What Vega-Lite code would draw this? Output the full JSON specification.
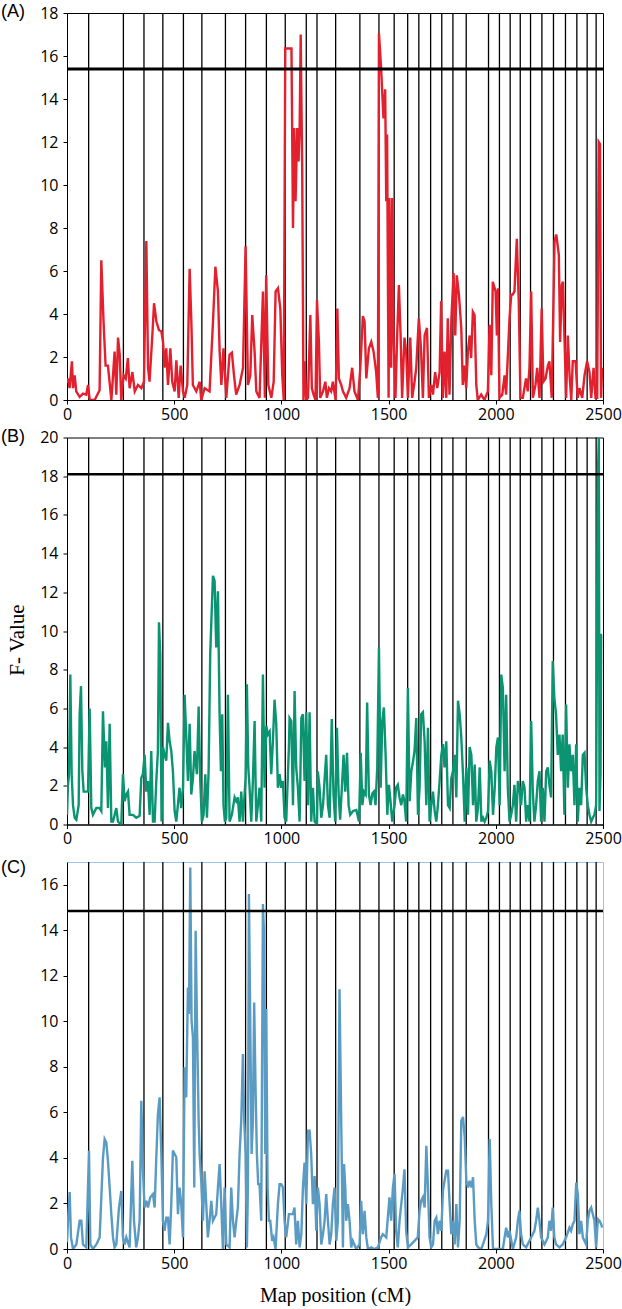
{
  "$schema": "https://vega.github.io/schema/vega-lite/v6.json",
  "background": "white",
  "padding": {"left": 0, "top": 2, "right": 2, "bottom": 0},
  "autosize": {"type": "pad"},
  "bounds": "flush",
  "spacing": 37.5,
  "datasets": {
    "chrom": [{"p":101},{"p":263},{"p":359},{"p":447},{"p":543},{"p":629},{"p":739},{"p":833},{"p":930},{"p":1018},{"p":1116},{"p":1166},{"p":1253},{"p":1366},{"p":1455},{"p":1526},{"p":1589},{"p":1641},{"p":1696},{"p":1748},{"p":1800},{"p":1862},{"p":1966},{"p":2017},{"p":2067},{"p":2114},{"p":2162},{"p":2215},{"p":2269},{"p":2325},{"p":2378},{"p":2426},{"p":2468}],
    "a": [{"p":0,"f":0.8},{"p":4.7,"f":1.0},{"p":12,"f":0.55},{"p":23,"f":1.8},{"p":28,"f":0.55},{"p":36,"f":1.15},{"p":43,"f":0.4},{"p":59,"f":0.15},{"p":75,"f":0.3},{"p":90,"f":0.25},{"p":98,"f":0.7},{"p":106,"f":0},{"p":129,"f":0},{"p":152,"f":0.45},{"p":160,"f":6.5},{"p":171,"f":3.5},{"p":180,"f":1.6},{"p":191,"f":1.6},{"p":207,"f":0},{"p":222,"f":2.25},{"p":230,"f":0.25},{"p":238,"f":2.9},{"p":246,"f":2.1},{"p":253,"f":0},{"p":264,"f":1.15},{"p":274,"f":1.0},{"p":284,"f":1.95},{"p":292,"f":0.55},{"p":305,"f":1.3},{"p":316,"f":0.4},{"p":331,"f":0.7},{"p":347,"f":0.55},{"p":359,"f":0.85},{"p":370,"f":7.4},{"p":378,"f":1.5},{"p":385,"f":0.85},{"p":398,"f":3.0},{"p":406,"f":4.5},{"p":417,"f":3.65},{"p":429,"f":3.25},{"p":440,"f":3.2},{"p":448,"f":2.7},{"p":455,"f":1.5},{"p":463,"f":2.4},{"p":471,"f":0.7},{"p":482,"f":2.4},{"p":491,"f":0.85},{"p":502,"f":0.4},{"p":510,"f":1.85},{"p":521,"f":0.1},{"p":530,"f":1.6},{"p":541,"f":0.4},{"p":549,"f":0.1},{"p":561,"f":0.7},{"p":572,"f":6.1},{"p":580,"f":3.65},{"p":587,"f":0.7},{"p":603,"f":0.4},{"p":619,"f":0.85},{"p":626,"f":0},{"p":642,"f":0.55},{"p":665,"f":0.4},{"p":681,"f":3.65},{"p":692,"f":6.2},{"p":704,"f":5.05},{"p":712,"f":2.25},{"p":720,"f":0.7},{"p":730,"f":2.4},{"p":743,"f":0.1},{"p":758,"f":2.1},{"p":769,"f":2.2},{"p":779,"f":1.15},{"p":789,"f":0.25},{"p":805,"f":0.7},{"p":821,"f":1.5},{"p":833,"f":7.15},{"p":844,"f":0.7},{"p":855,"f":1.15},{"p":864,"f":3.95},{"p":875,"f":2.25},{"p":883,"f":0.4},{"p":898,"f":0.1},{"p":914,"f":5.05},{"p":923,"f":0.1},{"p":929,"f":5.8},{"p":939,"f":0.7},{"p":953,"f":0.1},{"p":964,"f":0.85},{"p":973,"f":5.05},{"p":984,"f":5.2},{"p":995,"f":4.25},{"p":1004,"f":1.15},{"p":1011,"f":0},{"p":1018,"f":16.35},{"p":1047,"f":16.35},{"p":1054,"f":8.0},{"p":1060,"f":12.65},{"p":1066,"f":9.25},{"p":1074,"f":12.65},{"p":1080,"f":11.1},{"p":1085,"f":12.6},{"p":1090,"f":17.0},{"p":1097,"f":10.8},{"p":1103,"f":0},{"p":1108,"f":1.8},{"p":1116,"f":0},{"p":1124,"f":0.1},{"p":1135,"f":3.95},{"p":1142,"f":0.55},{"p":1150,"f":0.25},{"p":1159,"f":0},{"p":1166,"f":4.65},{"p":1175,"f":2.7},{"p":1181,"f":0.1},{"p":1194,"f":0.4},{"p":1205,"f":0.85},{"p":1212,"f":0.1},{"p":1222,"f":0.55},{"p":1232,"f":0.4},{"p":1240,"f":0.85},{"p":1253,"f":0},{"p":1261,"f":4.25},{"p":1268,"f":1.0},{"p":1279,"f":0.7},{"p":1287,"f":0.4},{"p":1302,"f":0.1},{"p":1318,"f":0.55},{"p":1330,"f":1.5},{"p":1341,"f":0.4},{"p":1357,"f":0},{"p":1368,"f":1.5},{"p":1380,"f":3.9},{"p":1388,"f":3.65},{"p":1396,"f":1.0},{"p":1408,"f":2.4},{"p":1419,"f":2.7},{"p":1430,"f":2.25},{"p":1442,"f":1.3},{"p":1450,"f":0.1},{"p":1455,"f":17.05},{"p":1465,"f":15.45},{"p":1476,"f":13.1},{"p":1484,"f":14.45},{"p":1489,"f":9.25},{"p":1493,"f":12.35},{"p":1500,"f":0.1},{"p":1504,"f":9.4},{"p":1512,"f":1.5},{"p":1517,"f":9.4},{"p":1523,"f":3.0},{"p":1532,"f":0.1},{"p":1540,"f":3.0},{"p":1548,"f":5.35},{"p":1556,"f":3.0},{"p":1563,"f":0.1},{"p":1574,"f":2.9},{"p":1582,"f":2.25},{"p":1590,"f":0.1},{"p":1601,"f":2.9},{"p":1610,"f":0.1},{"p":1621,"f":0.85},{"p":1629,"f":1.5},{"p":1641,"f":3.8},{"p":1651,"f":2.4},{"p":1660,"f":0.1},{"p":1668,"f":3.0},{"p":1679,"f":3.35},{"p":1688,"f":0.1},{"p":1699,"f":0.7},{"p":1707,"f":0.25},{"p":1717,"f":1.3},{"p":1727,"f":0.55},{"p":1738,"f":1.3},{"p":1745,"f":4.6},{"p":1753,"f":0.1},{"p":1761,"f":2.25},{"p":1769,"f":0.1},{"p":1776,"f":3.8},{"p":1784,"f":0.25},{"p":1793,"f":3.8},{"p":1803,"f":5.9},{"p":1811,"f":3.0},{"p":1818,"f":5.8},{"p":1828,"f":4.9},{"p":1839,"f":3.35},{"p":1846,"f":0.7},{"p":1854,"f":1.6},{"p":1862,"f":0.55},{"p":1870,"f":2.25},{"p":1878,"f":3.0},{"p":1885,"f":1.95},{"p":1893,"f":4.1},{"p":1901,"f":3.95},{"p":1909,"f":0.7},{"p":1916,"f":0},{"p":1932,"f":0.25},{"p":1947,"f":0},{"p":1963,"f":0.4},{"p":1971,"f":3.5},{"p":1979,"f":1.15},{"p":1986,"f":5.5},{"p":1999,"f":5.05},{"p":2005,"f":3.0},{"p":2010,"f":5.2},{"p":2017,"f":0.1},{"p":2030,"f":0.25},{"p":2041,"f":1.15},{"p":2048,"f":0.25},{"p":2064,"f":3.8},{"p":2072,"f":4.9},{"p":2079,"f":4.9},{"p":2087,"f":5.05},{"p":2098,"f":7.5},{"p":2107,"f":4.6},{"p":2115,"f":0.1},{"p":2126,"f":0.1},{"p":2141,"f":1.0},{"p":2149,"f":0.4},{"p":2157,"f":1.5},{"p":2165,"f":5.05},{"p":2173,"f":0.1},{"p":2185,"f":0.7},{"p":2193,"f":1.5},{"p":2204,"f":0.1},{"p":2214,"f":4.25},{"p":2222,"f":0.85},{"p":2232,"f":1.0},{"p":2243,"f":1.6},{"p":2250,"f":1.8},{"p":2261,"f":0.1},{"p":2274,"f":7.4},{"p":2282,"f":7.7},{"p":2294,"f":6.75},{"p":2300,"f":2.7},{"p":2308,"f":5.35},{"p":2313,"f":5.5},{"p":2320,"f":3.0},{"p":2328,"f":0.1},{"p":2336,"f":3.0},{"p":2344,"f":1.15},{"p":2352,"f":0},{"p":2359,"f":1.8},{"p":2372,"f":1.8},{"p":2382,"f":0.1},{"p":2390,"f":0.55},{"p":2403,"f":0.1},{"p":2414,"f":1.15},{"p":2426,"f":1.8},{"p":2437,"f":1.3},{"p":2445,"f":0.1},{"p":2456,"f":1.5},{"p":2465,"f":0.1},{"p":2473,"f":0.1},{"p":2480,"f":12.0},{"p":2486,"f":11.9},{"p":2491,"f":0.1},{"p":2496,"f":1.5}],
    "b": [{"p":0,"f":0.5},{"p":4.7,"f":2.05},{"p":9.3,"f":2.6},{"p":15.5,"f":7.75},{"p":21.8,"f":2.6},{"p":28,"f":1.0},{"p":35.7,"f":0.35},{"p":43.5,"f":0.25},{"p":54.4,"f":1.0},{"p":59,"f":5.7},{"p":65.3,"f":7.15},{"p":71.5,"f":2.75},{"p":77.7,"f":1.7},{"p":87,"f":1.7},{"p":98,"f":1.7},{"p":105.7,"f":6.0},{"p":113.4,"f":0.85},{"p":121,"f":0.5},{"p":136.8,"f":0.85},{"p":152.3,"f":0.85},{"p":160,"f":0.7},{"p":167.8,"f":5.85},{"p":177,"f":2.95},{"p":183.4,"f":4.3},{"p":191,"f":0.85},{"p":199,"f":5.2},{"p":206.7,"f":0.15},{"p":214.5,"f":0.15},{"p":230,"f":0.85},{"p":237.8,"f":0.15},{"p":253.3,"f":0},{"p":261,"f":2.6},{"p":269,"f":1.2},{"p":276.6,"f":1.55},{"p":284.4,"f":1.7},{"p":292,"f":0.5},{"p":307.7,"f":0.5},{"p":323,"f":0.35},{"p":338.8,"f":0.45},{"p":346.5,"f":2.4},{"p":354,"f":2.6},{"p":362,"f":3.6},{"p":370,"f":1.7},{"p":377.6,"f":2.25},{"p":385.4,"f":0.5},{"p":393,"f":3.8},{"p":401,"f":0.15},{"p":408.7,"f":0.15},{"p":416.5,"f":2.25},{"p":424,"f":3.8},{"p":429,"f":10.45},{"p":435,"f":8.8},{"p":441,"f":0.15},{"p":447.5,"f":4.0},{"p":455,"f":3.6},{"p":463,"f":3.3},{"p":471,"f":5.25},{"p":478.6,"f":4.3},{"p":486.4,"f":3.8},{"p":494,"f":2.75},{"p":502,"f":0.7},{"p":509.7,"f":0.15},{"p":525,"f":1.9},{"p":533,"f":0.85},{"p":541,"f":1.9},{"p":548.6,"f":6.7},{"p":556,"f":4.65},{"p":564,"f":2.25},{"p":572,"f":5.2},{"p":579.6,"f":1.55},{"p":587.4,"f":2.4},{"p":595,"f":3.8},{"p":606,"f":2.6},{"p":614,"f":6.1},{"p":621.6,"f":2.25},{"p":629,"f":0.15},{"p":637,"f":0.5},{"p":645,"f":2.6},{"p":652.7,"f":0.35},{"p":660.5,"f":2.75},{"p":668,"f":8.8},{"p":680.7,"f":12.85},{"p":688.4,"f":12.6},{"p":696,"f":9.15},{"p":704,"f":12.05},{"p":711.7,"f":5.7},{"p":718,"f":2.75},{"p":724,"f":5.7},{"p":730,"f":1.0},{"p":736.6,"f":0.15},{"p":742.8,"f":0.35},{"p":750.6,"f":6.7},{"p":758.3,"f":0.15},{"p":769,"f":0.5},{"p":781.7,"f":1.4},{"p":789.4,"f":1.2},{"p":797,"f":1.4},{"p":805,"f":0.15},{"p":812.7,"f":1.7},{"p":820.5,"f":0.15},{"p":833,"f":2.4},{"p":839,"f":7.25},{"p":845.4,"f":2.95},{"p":851.6,"f":1.9},{"p":859.4,"f":0.15},{"p":867,"f":2.25},{"p":875,"f":5.35},{"p":882.7,"f":0.15},{"p":890.4,"f":1.0},{"p":898,"f":1.9},{"p":906,"f":0.15},{"p":913.8,"f":7.75},{"p":921.5,"f":1.9},{"p":929.3,"f":5.1},{"p":937,"f":4.65},{"p":945,"f":4.8},{"p":952.6,"f":2.6},{"p":960.4,"f":4.3},{"p":968,"f":6.45},{"p":976,"f":5.2},{"p":983.7,"f":1.9},{"p":991.5,"f":2.6},{"p":999,"f":1.9},{"p":1007,"f":2.25},{"p":1014.8,"f":0.35},{"p":1022.5,"f":0.15},{"p":1035,"f":4.0},{"p":1038,"f":5.5},{"p":1046,"f":5.35},{"p":1054,"f":1.0},{"p":1061.5,"f":6.9},{"p":1069,"f":2.95},{"p":1077,"f":1.9},{"p":1085,"f":0.15},{"p":1093,"f":5.5},{"p":1100.4,"f":5.7},{"p":1108,"f":2.25},{"p":1116,"f":5.8},{"p":1124,"f":1.0},{"p":1131.5,"f":5.8},{"p":1139,"f":0.15},{"p":1147,"f":1.9},{"p":1155,"f":0.15},{"p":1166,"f":0},{"p":1170,"f":2.75},{"p":1178,"f":1.9},{"p":1186,"f":0.35},{"p":1194,"f":1.0},{"p":1201,"f":2.25},{"p":1209,"f":3.6},{"p":1217,"f":1.0},{"p":1225,"f":0.35},{"p":1235,"f":5.45},{"p":1243,"f":1.55},{"p":1251,"f":0.15},{"p":1259,"f":5.0},{"p":1267,"f":1.55},{"p":1274,"f":0.25},{"p":1282,"f":1.9},{"p":1290,"f":3.6},{"p":1298,"f":1.7},{"p":1306,"f":3.7},{"p":1313.5,"f":1.0},{"p":1321,"f":0.5},{"p":1334,"f":0.7},{"p":1349.5,"f":0.75},{"p":1362,"f":0.15},{"p":1370,"f":3.7},{"p":1377.6,"f":1.0},{"p":1385,"f":1.7},{"p":1393,"f":1.55},{"p":1400,"f":6.3},{"p":1408,"f":1.55},{"p":1416,"f":1.0},{"p":1424,"f":1.6},{"p":1431.5,"f":1.7},{"p":1439,"f":1.0},{"p":1447,"f":2.95},{"p":1455,"f":9.15},{"p":1463,"f":1.9},{"p":1470.5,"f":5.35},{"p":1478,"f":6.05},{"p":1486,"f":3.6},{"p":1494,"f":0.5},{"p":1501.5,"f":2.05},{"p":1509,"f":1.2},{"p":1517,"f":0.15},{"p":1528,"f":1.0},{"p":1535,"f":1.9},{"p":1543,"f":2.05},{"p":1551,"f":1.4},{"p":1559,"f":1.0},{"p":1567,"f":1.55},{"p":1574,"f":1.2},{"p":1582,"f":0.15},{"p":1590,"f":7.05},{"p":1598,"f":1.2},{"p":1606,"f":2.75},{"p":1613.2,"f":3.2},{"p":1621,"f":3.8},{"p":1629,"f":5.5},{"p":1637,"f":0.5},{"p":1644.5,"f":1.9},{"p":1652,"f":5.7},{"p":1660,"f":5.8},{"p":1668,"f":4.3},{"p":1676,"f":1.0},{"p":1683.5,"f":5.0},{"p":1691,"f":0.15},{"p":1699,"f":1.0},{"p":1707,"f":1.7},{"p":1714.8,"f":0.7},{"p":1722.5,"f":0.15},{"p":1730,"f":1.0},{"p":1738,"f":2.25},{"p":1746,"f":3.6},{"p":1753.5,"f":4.15},{"p":1761,"f":2.95},{"p":1769,"f":4.3},{"p":1777,"f":1.0},{"p":1784.8,"f":0.85},{"p":1792.5,"f":2.4},{"p":1800,"f":2.75},{"p":1808,"f":3.6},{"p":1816,"f":1.4},{"p":1823.6,"f":6.4},{"p":1831.5,"f":5.7},{"p":1839,"f":4.5},{"p":1847,"f":2.6},{"p":1855,"f":0.15},{"p":1862.7,"f":2.95},{"p":1870.4,"f":0.5},{"p":1878,"f":4.0},{"p":1886,"f":3.6},{"p":1893.8,"f":1.0},{"p":1901.6,"f":3.1},{"p":1909,"f":0.15},{"p":1917,"f":0.85},{"p":1925,"f":2.95},{"p":1932.8,"f":0.15},{"p":1940.5,"f":0.35},{"p":1948,"f":0.15},{"p":1956,"f":0.35},{"p":1963.8,"f":0.7},{"p":1971.5,"f":3.3},{"p":1979,"f":2.75},{"p":1987,"f":0.5},{"p":1995,"f":1.9},{"p":2002.6,"f":4.0},{"p":2010,"f":4.5},{"p":2018,"f":1.0},{"p":2025.5,"f":7.75},{"p":2033,"f":7.05},{"p":2041,"f":2.75},{"p":2048.4,"f":6.7},{"p":2056,"f":1.9},{"p":2064,"f":0.15},{"p":2071.7,"f":0.5},{"p":2079.5,"f":1.0},{"p":2087,"f":2.05},{"p":2095,"f":0.15},{"p":2103,"f":2.25},{"p":2110.5,"f":1.9},{"p":2118,"f":1.0},{"p":2126,"f":2.25},{"p":2134,"f":1.9},{"p":2141.6,"f":0.15},{"p":2149.4,"f":1.0},{"p":2157,"f":0.15},{"p":2165,"f":5.35},{"p":2172.6,"f":1.7},{"p":2180,"f":0.15},{"p":2188,"f":1.0},{"p":2196,"f":2.25},{"p":2203.6,"f":2.75},{"p":2211.3,"f":0.15},{"p":2219,"f":1.9},{"p":2227,"f":0.15},{"p":2235,"f":2.75},{"p":2242.6,"f":2.95},{"p":2250,"f":2.05},{"p":2258,"f":1.4},{"p":2265.5,"f":8.45},{"p":2273,"f":6.55},{"p":2281,"f":5.7},{"p":2289,"f":3.6},{"p":2297,"f":4.65},{"p":2304.6,"f":2.75},{"p":2312,"f":4.65},{"p":2320,"f":0.5},{"p":2328,"f":6.2},{"p":2336,"f":1.9},{"p":2343.6,"f":4.15},{"p":2351,"f":2.75},{"p":2359,"f":3.6},{"p":2367,"f":1.0},{"p":2374.8,"f":4.15},{"p":2382.5,"f":0.15},{"p":2390,"f":1.9},{"p":2398,"f":1.0},{"p":2406,"f":3.6},{"p":2413.7,"f":3.7},{"p":2421.4,"f":1.9},{"p":2429,"f":1.0},{"p":2437,"f":0.5},{"p":2445,"f":0.15},{"p":2452.6,"f":0.35},{"p":2460,"f":0.5},{"p":2468,"f":1.0},{"p":2476,"f":17.95},{"p":2480.5,"f":20},{"p":2483.7,"f":0.7},{"p":2488.4,"f":2.6},{"p":2491.5,"f":9.8},{"p":2496,"f":9.8}],
    "c": [{"p":0,"f":0.3},{"p":4.7,"f":1.24},{"p":12.4,"f":2.5},{"p":18.6,"f":0.51},{"p":28,"f":0},{"p":43.5,"f":0.2},{"p":59,"f":1.24},{"p":66.8,"f":1.24},{"p":74.6,"f":0.2},{"p":90,"f":0.07},{"p":102.6,"f":4.32},{"p":108.8,"f":0.2},{"p":121,"f":0},{"p":136.8,"f":0.2},{"p":152.3,"f":0.51},{"p":167.8,"f":4.0},{"p":175.6,"f":4.83},{"p":183.4,"f":4.68},{"p":191,"f":3.88},{"p":199,"f":2.7},{"p":206.7,"f":1.53},{"p":214.5,"f":0.51},{"p":222,"f":0.07},{"p":230,"f":0.2},{"p":242.4,"f":1.82},{"p":253.3,"f":2.55},{"p":261,"f":0.51},{"p":268.8,"f":0.2},{"p":276.6,"f":0.51},{"p":292,"f":0.07},{"p":304.6,"f":3.88},{"p":312.4,"f":1.24},{"p":323,"f":0.07},{"p":331,"f":0.51},{"p":338.8,"f":1.24},{"p":346.5,"f":6.51},{"p":354.3,"f":3.43},{"p":362,"f":1.82},{"p":370,"f":2.12},{"p":377.6,"f":1.82},{"p":388.5,"f":2.27},{"p":401,"f":2.41},{"p":408.7,"f":1.82},{"p":416.5,"f":4.03},{"p":424,"f":5.92},{"p":432,"f":6.66},{"p":440,"f":4.17},{"p":447.5,"f":1.24},{"p":455,"f":0.8},{"p":463,"f":1.38},{"p":471,"f":1.38},{"p":478.6,"f":0.2},{"p":486.4,"f":1.97},{"p":494,"f":4.32},{"p":502,"f":4.17},{"p":509.7,"f":4.03},{"p":517.5,"f":1.53},{"p":525,"f":2.7},{"p":533,"f":1.97},{"p":541,"f":0.51},{"p":548.6,"f":7.98},{"p":556,"f":6.66},{"p":564,"f":11.49},{"p":568.8,"f":10.32},{"p":575,"f":16.76},{"p":581,"f":10.03},{"p":587.4,"f":9.29},{"p":593.6,"f":2.7},{"p":600,"f":13.98},{"p":606,"f":10.03},{"p":614,"f":5.63},{"p":618.5,"f":4.17},{"p":626,"f":3.0},{"p":634,"f":1.24},{"p":642,"f":3.41},{"p":649.5,"f":1.97},{"p":657,"f":0.51},{"p":665,"f":1.24},{"p":673,"f":2.12},{"p":680.7,"f":1.24},{"p":696,"f":1.53},{"p":704,"f":2.7},{"p":711.7,"f":3.73},{"p":719.5,"f":1.97},{"p":727,"f":0},{"p":735,"f":2.7},{"p":743,"f":0.2},{"p":758.3,"f":0.07},{"p":766,"f":2.7},{"p":774,"f":1.24},{"p":781.7,"f":0.51},{"p":789.4,"f":1.24},{"p":797,"f":1.82},{"p":805,"f":4.17},{"p":812.7,"f":5.63},{"p":820.5,"f":8.56},{"p":826.7,"f":5.63},{"p":833,"f":4.17},{"p":839,"f":0.07},{"p":843.8,"f":2.7},{"p":848.5,"f":15.59},{"p":854.7,"f":10.03},{"p":861,"f":4.17},{"p":867,"f":5.63},{"p":873,"f":10.83},{"p":879.4,"f":7.1},{"p":885.6,"f":4.17},{"p":891.8,"f":2.85},{"p":898,"f":2.85},{"p":906,"f":1.24},{"p":913.8,"f":15.15},{"p":918.5,"f":13.98},{"p":924.7,"f":4.17},{"p":929.3,"f":10.54},{"p":935.6,"f":2.7},{"p":941.7,"f":1.24},{"p":948,"f":1.24},{"p":957,"f":0.36},{"p":963.5,"f":0.51},{"p":972.8,"f":0},{"p":983.7,"f":1.97},{"p":991.5,"f":2.85},{"p":999,"f":2.85},{"p":1007,"f":2.7},{"p":1014.8,"f":1.24},{"p":1022.5,"f":0.51},{"p":1035,"f":1.53},{"p":1053.6,"f":1.53},{"p":1061,"f":1.82},{"p":1069,"f":0.2},{"p":1077,"f":1.24},{"p":1085,"f":0.07},{"p":1093,"f":0.65},{"p":1100.4,"f":2.7},{"p":1108,"f":3.8},{"p":1116,"f":1.97},{"p":1124,"f":5.2},{"p":1131.5,"f":5.2},{"p":1139,"f":4.17},{"p":1147,"f":1.97},{"p":1155,"f":3.2},{"p":1162.6,"f":0.8},{"p":1170.4,"f":2.7},{"p":1178,"f":1.97},{"p":1186,"f":0.2},{"p":1194,"f":0.65},{"p":1201.5,"f":1.24},{"p":1209,"f":2.41},{"p":1217,"f":1.24},{"p":1225,"f":0.2},{"p":1232.5,"f":0.65},{"p":1240,"f":1.97},{"p":1248,"f":2.7},{"p":1256,"f":0.36},{"p":1263.5,"f":1.24},{"p":1271,"f":11.41},{"p":1279,"f":5.63},{"p":1287,"f":0.07},{"p":1292,"f":3.73},{"p":1298,"f":2.7},{"p":1302.5,"f":1.24},{"p":1310,"f":1.97},{"p":1318,"f":1.24},{"p":1325.6,"f":0.07},{"p":1333,"f":0.36},{"p":1349,"f":0},{"p":1364.6,"f":0.2},{"p":1372,"f":2.12},{"p":1380,"f":0.65},{"p":1388,"f":1.68},{"p":1396,"f":0.51},{"p":1403.5,"f":0},{"p":1419,"f":0.07},{"p":1434,"f":0},{"p":1450,"f":0.07},{"p":1465,"f":0.51},{"p":1473,"f":0.65},{"p":1489,"f":0.51},{"p":1504,"f":2.27},{"p":1512,"f":1.24},{"p":1520,"f":2.7},{"p":1527.8,"f":3.3},{"p":1535,"f":0.8},{"p":1543,"f":0.07},{"p":1551,"f":1.24},{"p":1567,"f":2.7},{"p":1574,"f":3.5},{"p":1582,"f":0.8},{"p":1590,"f":0.07},{"p":1605,"f":0.2},{"p":1621,"f":0.36},{"p":1636,"f":0.51},{"p":1644.5,"f":1.68},{"p":1652,"f":2.12},{"p":1660,"f":2.27},{"p":1668,"f":1.82},{"p":1676,"f":4.53},{"p":1683.5,"f":2.7},{"p":1691,"f":0.51},{"p":1699,"f":0.07},{"p":1707,"f":0.2},{"p":1714.8,"f":1.24},{"p":1722.5,"f":1.38},{"p":1730,"f":0.65},{"p":1738,"f":1.24},{"p":1746,"f":0.8},{"p":1753.5,"f":2.56},{"p":1761,"f":3.0},{"p":1769,"f":3.44},{"p":1777,"f":3.44},{"p":1784.8,"f":1.97},{"p":1792.5,"f":0.65},{"p":1800,"f":1.24},{"p":1808,"f":0.2},{"p":1816,"f":1.97},{"p":1823.6,"f":0.07},{"p":1831.5,"f":1.24},{"p":1839,"f":5.63},{"p":1847,"f":5.8},{"p":1855,"f":4.9},{"p":1862.7,"f":3.0},{"p":1870.4,"f":2.7},{"p":1878,"f":3.0},{"p":1886,"f":2.7},{"p":1893.8,"f":3.15},{"p":1901.6,"f":1.24},{"p":1909,"f":0.2},{"p":1917,"f":0.07},{"p":1932.8,"f":0},{"p":1956,"f":0.65},{"p":1963.8,"f":1.24},{"p":1971.5,"f":4.83},{"p":1979,"f":1.97},{"p":1987,"f":0},{"p":2010,"f":0},{"p":2033,"f":0},{"p":2041,"f":0.51},{"p":2048.4,"f":0.94},{"p":2056,"f":0.51},{"p":2064,"f":0.8},{"p":2079.5,"f":0},{"p":2095,"f":0.51},{"p":2103,"f":1.24},{"p":2110.5,"f":1.68},{"p":2118,"f":0.65},{"p":2126,"f":0.2},{"p":2141.6,"f":0.07},{"p":2157,"f":0.36},{"p":2172.6,"f":0.65},{"p":2180,"f":0.8},{"p":2188,"f":1.24},{"p":2196,"f":1.82},{"p":2203.6,"f":1.24},{"p":2211.3,"f":0.51},{"p":2227,"f":0.2},{"p":2242.6,"f":0.51},{"p":2250,"f":1.24},{"p":2258,"f":0.8},{"p":2265.5,"f":1.82},{"p":2273,"f":0.51},{"p":2281,"f":0.2},{"p":2297,"f":0.07},{"p":2312,"f":0.2},{"p":2328,"f":0.51},{"p":2343.6,"f":0.94},{"p":2351,"f":0.8},{"p":2359,"f":1.09},{"p":2367,"f":1.24},{"p":2375,"f":2.92},{"p":2382.5,"f":2.41},{"p":2390,"f":0.65},{"p":2398,"f":1.24},{"p":2406,"f":0.51},{"p":2421.4,"f":0.2},{"p":2429,"f":1.24},{"p":2437,"f":1.68},{"p":2445,"f":1.82},{"p":2452.6,"f":1.53},{"p":2460,"f":1.24},{"p":2468,"f":0.07},{"p":2476,"f":1.31},{"p":2483.7,"f":1.24},{"p":2491.5,"f":1.09},{"p":2496,"f":0.94}]
  },
  "config": {
    "view": {"stroke": "black", "strokeWidth": 1},
    "axis": {"grid": false, "domainColor": "black", "domainWidth": 1, "tickColor": "black", "tickSize": 4, "labelColor": "black", "labelFont": "Open Sans", "labelFontSize": 16, "labelPadding": 5, "labelOverlap": false, "labelFlush": false, "format": "d", "titleColor": "black", "titleFont": "Liberation Serif", "titleFontWeight": "normal", "titleFontSize": 21},
    "title": {"anchor": "start", "frame": "group", "orient": "top", "offset": 0, "dx": -66, "dy": 20, "baseline": "middle", "font": "Liberation Sans", "fontSize": 18, "fontWeight": "normal", "color": "black"}
  },
  "vconcat": [
    {
      "width": 536, "height": 387,
      "title": {"text": "(A)"},
      "layer": [
        {"data": {"name": "chrom"}, "mark": {"type": "rule", "color": "black", "strokeWidth": 1.3},
         "encoding": {"x": {"field": "p", "type": "quantitative", "scale": {"domain": [0, 2500], "nice": false}, "axis": {"values": [0, 500, 1000, 1500, 2000, 2500], "title": null, "labelPadding": 2}}}},
        {"data": {"name": "a"}, "mark": {"type": "line", "color": "#e3202d", "strokeWidth": 2.4, "clip": true},
         "encoding": {"x": {"field": "p", "type": "quantitative"}, "y": {"field": "f", "type": "quantitative", "scale": {"domain": [0, 18], "nice": false}, "axis": {"values": [0, 2, 4, 6, 8, 10, 12, 14, 16, 18], "title": null, "labelOverlap": false}}}},
        {"data": {"values": [{"t": 15.4}]}, "mark": {"type": "rule", "color": "black", "strokeWidth": 3},
         "encoding": {"y": {"field": "t", "type": "quantitative"}}}
      ]
    },
    {
      "width": 536, "height": 387,
      "title": {"text": "(B)"},
      "layer": [
        {"data": {"name": "chrom"}, "mark": {"type": "rule", "color": "black", "strokeWidth": 1.3},
         "encoding": {"x": {"field": "p", "type": "quantitative", "scale": {"domain": [0, 2500], "nice": false}, "axis": {"values": [0, 500, 1000, 1500, 2000, 2500], "title": null, "labelPadding": 2}}}},
        {"data": {"name": "b"}, "mark": {"type": "line", "color": "#0b9471", "strokeWidth": 2.4, "clip": true},
         "encoding": {"x": {"field": "p", "type": "quantitative"}, "y": {"field": "f", "type": "quantitative", "scale": {"domain": [0, 20], "nice": false}, "axis": {"values": [0, 2, 4, 6, 8, 10, 12, 14, 16, 18, 20], "labelOverlap": false, "labelBound": false, "title": "F- Value", "titlePadding": 12, "titleY": 202}}}},
        {"data": {"values": [{"t": 18.1}]}, "mark": {"type": "rule", "color": "black", "strokeWidth": 2.5},
         "encoding": {"y": {"field": "t", "type": "quantitative", "axis": {"values": [0, 2, 4, 6, 8, 10, 12, 14, 16, 18, 20], "labelOverlap": false}}}}
      ]
    },
    {
      "width": 536, "height": 387,
      "title": {"text": "(C)"},
      "view": {"stroke": "#9dc3e6"},
      "layer": [
        {"data": {"name": "chrom"}, "mark": {"type": "rule", "color": "black", "strokeWidth": 1.3},
         "encoding": {"x": {"field": "p", "type": "quantitative", "scale": {"domain": [0, 2500], "nice": false}, "axis": {"values": [0, 500, 1000, 1500, 2000, 2500], "title": "Map position (cM)", "labelPadding": 2, "titlePadding": 14, "titleFontSize": 20}}}},
        {"data": {"name": "c"}, "mark": {"type": "line", "color": "#5a9bc3", "strokeWidth": 2.4, "clip": true},
         "encoding": {"x": {"field": "p", "type": "quantitative"}, "y": {"field": "f", "type": "quantitative", "scale": {"domain": [0, 17], "nice": false}, "axis": {"values": [0, 2, 4, 6, 8, 10, 12, 14, 16], "title": null, "labelOverlap": false}}}},
        {"data": {"values": [{"t": 14.85}]}, "mark": {"type": "rule", "color": "black", "strokeWidth": 2.5},
         "encoding": {"y": {"field": "t", "type": "quantitative"}}}
      ]
    }
  ]
}
